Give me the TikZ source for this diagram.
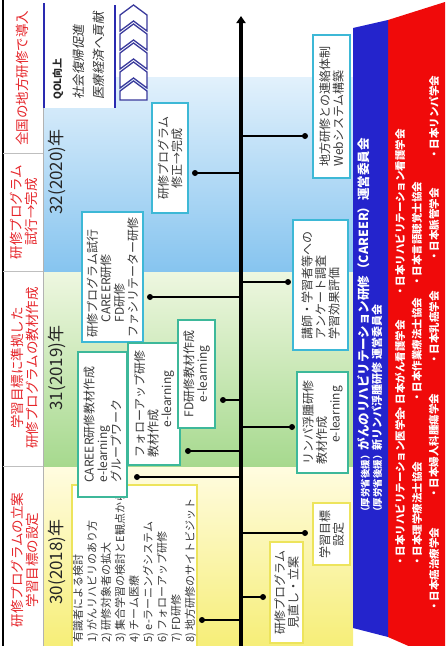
\documentclass[tikz,border=0pt]{standalone}
\usepackage{fontspec}
\setmainfont{Noto Sans CJK JP}
\newfontfamily\jpslant[FakeSlant=0.18]{Noto Sans CJK JP}
\usetikzlibrary{arrows.meta}
\definecolor{bandblueT}{HTML}{E2F1FC}
\definecolor{bandblueB}{HTML}{86C4EF}
\definecolor{bandgreenT}{HTML}{EEF7E0}
\definecolor{bandgreenB}{HTML}{A6D98E}
\definecolor{bandyelT}{HTML}{FFFCE0}
\definecolor{bandyelB}{HTML}{F6EE78}
\definecolor{bcyan}{HTML}{3DB8D6}
\definecolor{bteal}{HTML}{3DB89A}
\definecolor{byel}{HTML}{EDE45C}
\definecolor{stripeblue}{HTML}{2424CC}
\definecolor{stripered}{HTML}{F00A0A}
\definecolor{qolblue}{HTML}{2A2AB0}
\definecolor{chev}{HTML}{3A3A9C}
\definecolor{redtxt}{HTML}{E5252A}
\definecolor{boxtxt}{HTML}{3A3A3A}
\begin{document}
\begin{tikzpicture}[x=1pt,y=-1pt,
  tbox/.style={draw=#1, line width=1.8pt, fill=white, rotate=90, inner sep=1pt,
    text=boxtxt, font=\fontsize{12}{13.5}\selectfont},
  rtext/.style={rotate=90, inner sep=0pt},
  redcell/.style={rtext, align=center, text=redtxt, font=\fontsize{13.5}{15}\selectfont},
  yeartxt/.style={rtext, text=black!85, font=\fontsize{17}{17}\selectfont},
  redorg/.style={rtext, anchor=west, text=white, font=\bfseries\fontsize{10.5}{10.5}\selectfont},
  branch/.style={line width=1.6pt, black},
  dotmark/.style={fill=black},
  chevron/.style={draw=chev, line width=1.3pt, fill=white, line join=miter}
]
\useasboundingbox (0,0) rectangle (445,646);
% background bands
\shade[top color=bandblueT, bottom color=bandblueB] (44,77) rectangle (353,272);
\shade[top color=bandgreenT, bottom color=bandgreenB] (44,272) rectangle (353,467);
\shade[top color=bandyelT, bottom color=bandyelB] (44,467) rectangle (353,646);
% QOL box
\fill[white] (44,0) rectangle (115,108);
\draw[qolblue, line width=2.8pt] (44,3) -- (44,108);
\draw[qolblue, line width=2.8pt] (115,5) -- (115,108);
\node[rtext, anchor=west, text=black!85, font=\bfseries\fontsize{10}{10}\selectfont] (qol1) at (58,100) {QOL向上};
\node[rtext, anchor=west, text=black!80, font=\jpslant\fontsize{12.5}{12.5}\selectfont] (qol2) at (79,100) {社会復帰促進};
\node[rtext, anchor=west, text=black!80, font=\jpslant\fontsize{12.5}{12.5}\selectfont] (qol3) at (99,100) {医療経済へ貢献};
% chevrons
\foreach \a in {5,24,43,62}{
  \draw[chevron] (133.5,\a) -- (147,\a+10) -- (147,\a+26) -- (133.5,\a+16) -- (120,\a+26) -- (120,\a+10) -- cycle;
}
\draw[chevron] (133.5,81) -- (147,91) -- (147,100) -- (120,100) -- (120,91) -- cycle;
% left column
\draw[black, line width=1.2pt] (3,0) -- (3,646);
\draw[gray!60, line width=0.6pt] (43,108) -- (43,646);
\foreach \yy in {153,271,466}{ \draw[gray!50, line width=0.6pt] (3,\yy) -- (43,\yy); }
\node[redcell] (c1) at (22,78) {全国の地方研修で導入};
\node[redcell] (c2) at (24,212) {研修プログラム\\試行→完成};
\node[redcell] (c3) at (25,368) {学習目標に準拠した\\研修プログラムの教材作成};
\node[redcell] (c4) at (25,560) {研修プログラムの立案\\学習目標の設定};
% years
\node[yeartxt] (y2020) at (57,172) {32(2020)年};
\node[yeartxt] (y2019) at (57,368) {31(2019)年};
\node[yeartxt] (y2018) at (57,562) {30(2018)年};
% stripes
\fill[stripered] (388,20) -- (445,2) -- (445,662) -- (388,637) -- cycle;
\fill[stripeblue] (353,28) -- (388,20) -- (388,637) -- (353,628) -- cycle;
\node[rtext, anchor=west, text=white, font=\bfseries] (s1) at (364,517)
  {{\fontsize{9.5}{9.5}\selectfont （厚労省後援）}{\fontsize{12.5}{12.5}\selectfont がんのリハビリテーション研修（CAREER）運営委員会}};
\node[rtext, anchor=west, text=white, font=\bfseries] (s2) at (377,517)
  {{\fontsize{9.5}{9.5}\selectfont （厚労省後援）}{\fontsize{11}{11}\selectfont 新リンパ浮腫研修 運営委員会}};
\node[redorg] (o11) at (400,567) {・日本リハビリテーション医学会};
\node[redorg] (o12) at (400,415) {・日本がん看護学会};
\node[redorg] (o13) at (400,297) {・日本リハビリテーション看護学会};
\node[redorg] (o21) at (417,567) {・日本理学療法士協会};
\node[redorg] (o22) at (417,403) {・日本作業療法士協会};
\node[redorg] (o23) at (417,287) {・日本言語聴覚士協会};
\node[redorg] (o31) at (434,612) {・日本癌治療学会};
\node[redorg] (o32) at (434,499) {・日本婦人科腫瘍学会};
\node[redorg] (o33) at (434,365) {・日本乳癌学会};
\node[redorg] (o34) at (434,262) {・日本脈管学会};
\node[redorg] (o35) at (434,160) {・日本リンパ学会};
% timeline
\coordinate (tlb) at (241,646);
\coordinate (tlt) at (241,16);
\draw[line width=3.5pt, -{Triangle[length=7pt,width=9pt]}] (tlb) -- (tlt);
% dots
\coordinate (d1) at (195,173);
\coordinate (d2) at (150,297);
\coordinate (d3) at (137,477);
\coordinate (d4) at (188,451);
\coordinate (d5) at (223,400);
\coordinate (d6) at (202,620);
\coordinate (e1) at (305,136);
\coordinate (e2) at (288,282);
\coordinate (e3) at (292,427);
\coordinate (e4) at (305,533);
\coordinate (e5) at (263,597);
\foreach \d in {d1,d2,d3,d4,d5,d6,e1,e2,e3,e4,e5}{
  \draw[branch] (\d) -- (\d -| tlb);
  \fill[dotmark] (\d) circle (3);
}
% boxes left
\node[tbox=byel, minimum width=164pt, minimum height=125pt, align=left,
  font=\fontsize{11}{14}\selectfont] (b6) at (134.5,567)
  {有識者による検討\\1) がんリハビリのあり方\\2) 研修対象者の拡大\\3) 集合学習の検討とE観点から\\4) チーム医療\\5) e-ラーニングシステム\\6) フォローアップ研修\\7) FD研修\\8) 地方研修のサイトビジット};
\node[tbox=bcyan, minimum width=110pt, minimum height=36pt, align=center] (b1) at (170,158) {研修プログラム\\修正→完成};
\node[tbox=bcyan, minimum width=130pt, minimum height=61pt, align=left] (b2) at (112.5,277) {研修プログラム試行\\\hspace{1.2em}CAREER研修\\\hspace{1.2em}FD研修\\ファシリテーター研修};
\node[tbox=bteal, minimum width=145pt, minimum height=49pt, align=left] (b3) at (102.5,424.5) {CAREER研修教材作成\\e-learning\\グループワーク};
\node[tbox=bteal, minimum width=122pt, minimum height=52pt, align=left] (b4) at (154,404) {フォローアップ研修\\教材作成\\\hspace{2.5em}e-learning};
\node[tbox=bteal, minimum width=108pt, minimum height=37pt, align=center] (b5) at (196.5,374) {FD研修教材作成\\e-learning};
% boxes right
\node[tbox=bcyan, minimum width=143pt, minimum height=37pt, align=left] (r1) at (331.5,106.5) {地方研修との連絡体制\\Webシステム構築};
\node[tbox=bcyan, minimum width=130pt, minimum height=55pt, align=left] (r2) at (320.5,285) {講師・学習者等への\\アンケート調査\\学習効果評価};
\node[tbox=bteal, minimum width=101pt, minimum height=51pt, align=left] (r3) at (322.5,422.5) {リンパ浮腫研修\\教材作成\\\hspace{1.8em}e-learning};
\node[tbox=byel, minimum width=62pt, minimum height=37pt, align=center] (r4) at (331.5,534) {学習目標\\設定};
\node[tbox=byel, minimum width=101pt, minimum height=33pt, align=center] (r5) at (286.5,592.5) {研修プログラム\\見直し・立案};
\end{tikzpicture}
\end{document}
